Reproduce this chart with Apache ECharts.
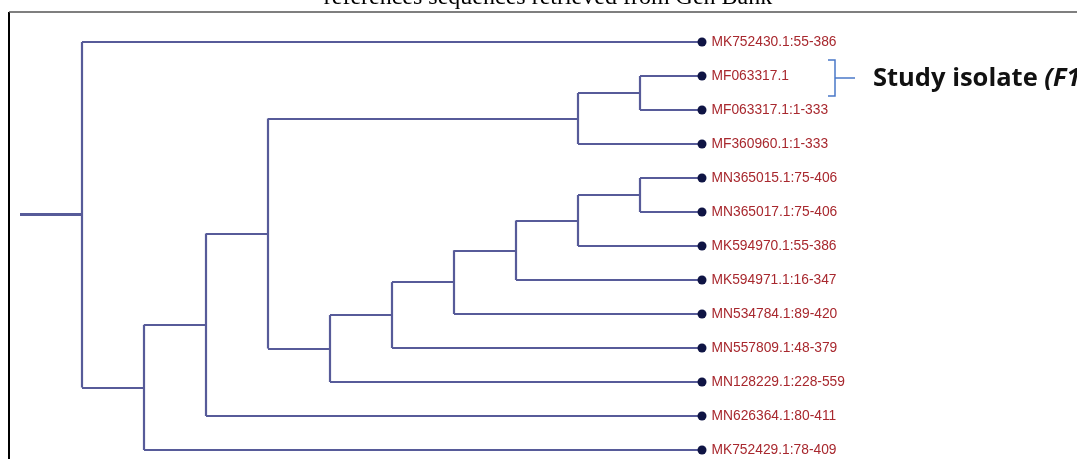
<!DOCTYPE html>
<html>
<head>
<meta charset="utf-8">
<script src="https://cdn.jsdelivr.net/npm/echarts@6/dist/echarts.min.js"></script>
<style>
  html, body { margin: 0; padding: 0; background: #fff; }
  #tree_chart { width: 1077px; height: 459px; }
</style>
</head>
<body>
<div id="tree_chart"></div>
<script>
// tips, top to bottom
var tipLabels = [
    'MK752430.1:55-386', 'MF063317.1', 'MF063317.1:1-333', 'MF360960.1:1-333',
    'MN365015.1:75-406', 'MN365017.1:75-406', 'MK594970.1:55-386', 'MK594971.1:16-347',
    'MN534784.1:89-420', 'MN557809.1:48-379', 'MN128229.1:228-559', 'MN626364.1:80-411',
    'MK752429.1:78-409'
];
var tipDepth = 11;
var rootStart = 0;
// internal clades: name, depth, children ("t" + index = tip)
var cladeNames = ['A', 'B', 'C', 'D', 'E', 'G', 'F', 'H', 'I', 'J', 'K', 'L'];
var cladeDepth = [1, 2, 3, 4, 9, 10, 5, 6, 7, 8, 9, 10];
var cladeChildren = [
    ['t0', 'B'], ['C', 't12'], ['D', 't11'], ['E', 'F'], ['G', 't3'], ['t1', 't2'],
    ['H', 't10'], ['I', 't9'], ['J', 't8'], ['K', 't7'], ['L', 't6'], ['t4', 't5']
];
var titleText = 'references sequences retrieved from Gen Bank';
var noteText = 'Study isolate ';
var noteItalic = '(F1)';

var tree = {
    depth : function(id) {
        if (id.charAt(0) == 't') return tipDepth;
        return cladeDepth[cladeNames.indexOf(id)];
    },
    y : function(id) {
        if (id.charAt(0) == 't') return parseInt(id.substring(1), 10);
        var ch = cladeChildren[cladeNames.indexOf(id)];
        return (tree.y(ch[0]) + tree.y(ch[1])) / 2;
    }
};

var segs = [];
segs.push({ coords : [ [ rootStart, tree.y('A') ], [ tree.depth('A'), tree.y('A') ] ], lineStyle : { width : 3 } });
for (var i = 0; i < cladeNames.length; i++) {
    var d = cladeDepth[i];
    var ch = cladeChildren[i];
    var y0 = tree.y(ch[0]), y1 = tree.y(ch[1]);
    segs.push({ coords : [ [ d, y0 ], [ d, y1 ] ] });
    segs.push({ coords : [ [ d, y0 ], [ tree.depth(ch[0]), y0 ] ] });
    segs.push({ coords : [ [ d, y1 ], [ tree.depth(ch[1]), y1 ] ] });
}

var tips = [];
for (var j = 0; j < tipLabels.length; j++) {
    tips.push({ value : [ tipDepth, j ], name : tipLabels[j] });
}

var chart = echarts.init(document.getElementById('tree_chart'));
var option = {
    animation : false,
    grid : { left : 20, right : 375, top : 42, bottom : 9 },
    xAxis : { type : 'value', min : 0, max : 11, show : false },
    yAxis : { type : 'value', min : 0, max : 12, inverse : true, show : false },
    series : [ {
        type : 'lines',
        coordinateSystem : 'cartesian2d',
        polyline : false,
        lineStyle : { color : '#575b99', width : 2.2, opacity : 1 },
        data : segs,
        z : 2
    }, {
        type : 'scatter',
        symbol : 'circle',
        symbolSize : 9,
        itemStyle : { color : '#0f1444', opacity : 1 },
        label : {
            show : true,
            position : 'right',
            distance : 5,
            formatter : '{b}',
            color : '#a8282e',
            fontFamily : 'Liberation Sans, Arial',
            fontSize : 13.8
        },
        data : tips,
        z : 3
    } ],
    graphic : [ {
        type : 'polyline',
        shape : { points : [ [ 9, 459 ], [ 9, 12 ] ] },
        style : { stroke : '#000', lineWidth : 2 }
    }, {
        type : 'polyline',
        shape : { points : [ [ 9, 12 ], [ 1077, 12 ] ] },
        style : { stroke : '#555', lineWidth : 1.5 }
    }, {
        type : 'text',
        x : 548,
        y : 10,
        style : {
            text : titleText,
            fontFamily : 'Liberation Serif, Times New Roman',
            fontSize : 24,
            fill : '#000',
            align : 'center',
            verticalAlign : 'bottom'
        }
    }, {
        type : 'polyline',
        shape : { points : [ [ 828, 60 ], [ 835, 60 ], [ 835, 96 ], [ 828, 96 ] ] },
        style : { stroke : '#4a78c8', lineWidth : 1.5, fill : null }
    }, {
        type : 'polyline',
        shape : { points : [ [ 835, 78 ], [ 855, 78 ] ] },
        style : { stroke : '#4a78c8', lineWidth : 1.5 }
    }, {
        type : 'text',
        x : 873,
        y : 79,
        style : {
            text : '{a|' + noteText + '}{b|' + noteItalic + '}',
            verticalAlign : 'middle',
            rich : {
                a : { fontFamily : 'Open Sans', fontWeight : 'bold', fontSize : 25.5, fill : '#111' },
                b : { fontFamily : 'Open Sans', fontWeight : 'bold', fontStyle : 'italic', fontSize : 25.5, fill : '#111' }
            }
        }
    } ]
};
chart.setOption(option);
</script>
</body>
</html>
